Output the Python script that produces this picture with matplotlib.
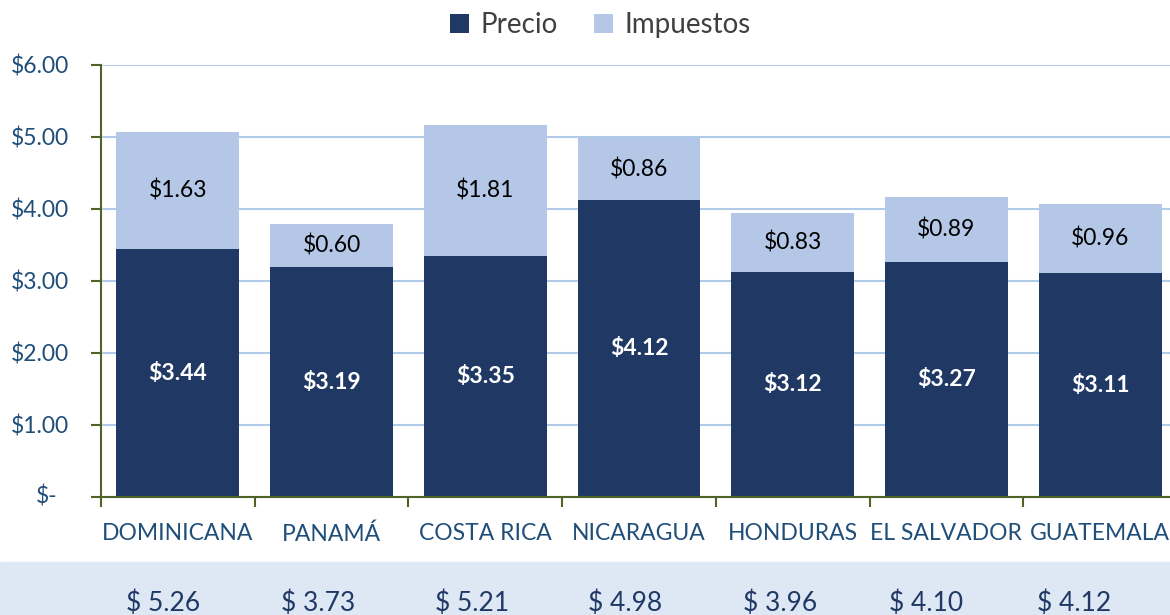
import matplotlib
matplotlib.use("Agg")
import matplotlib.pyplot as plt
from matplotlib.patches import Rectangle

categories = ["DOMINICANA", "PANAMÁ", "COSTA RICA", "NICARAGUA", "HONDURAS", "EL SALVADOR", "GUATEMALA"]
precio = [3.44, 3.19, 3.35, 4.12, 3.12, 3.27, 3.11]
impuestos = [1.63, 0.60, 1.81, 0.86, 0.83, 0.89, 0.96]
totales = ["$ 5.26", "$ 3.73", "$ 5.21", "$ 4.98", "$ 3.96", "$ 4.10", "$ 4.12"]
yticks = [0, 1, 2, 3, 4, 5, 6]
ytick_labels = ["", "$1.00", "$2.00", "$3.00", "$4.00", "$5.00", "$6.00"]
zero_label = "$-"

# layout: pixel centres of the totals row (table cells below the chart)
totals_px = [163, 318, 472, 625, 780, 926, 1074]

C_PRECIO = "#203864"
C_IMP = "#B4C7E7"
C_GRID = "#B0CBE8"
C_SPINE = "#4F6228"
C_TICK = "#1F4E79"

plt.rcParams['font.family'] = ['Lato', 'DejaVu Sans']

fig = plt.figure(figsize=(11.7, 6.15), dpi=100)
fig.patches.append(Rectangle((0, 0), 1, (615 - 562) / 615, transform=fig.transFigure,
                             color="#DDE8F4", zorder=0))
ax = fig.add_axes([101 / 1170, 1 - 497 / 615, (1177 - 101) / 1170, (497 - 65) / 615])

x = list(range(len(categories)))
b1 = ax.bar(x, precio, width=0.8, color=C_PRECIO, label="Precio", zorder=3)
b2 = ax.bar(x, impuestos, width=0.8, bottom=precio, color=C_IMP, label="Impuestos", zorder=3)

for i in x:
    ax.text(i, precio[i] / 2, f"${precio[i]:.2f}", ha="center", va="center",
            color="white", fontsize=16.5, fontweight="bold", zorder=4)
    ax.text(i, precio[i] + impuestos[i] / 2, f"${impuestos[i]:.2f}", ha="center", va="center",
            color="black", fontsize=16.5, zorder=4)
    fig.text(totals_px[i] / 1170, 1 - 603 / 615, totales[i],
             ha="center", va="center", fontsize=19, color="#1F3864")

ax.set_xlim(-0.5, 6.5)
ax.set_ylim(0, 6)
ax.set_yticks(yticks)
ax.set_yticklabels(ytick_labels)
ax.set_xticks(x)
ax.set_xticklabels(categories)
ax.set_xticks([i - 0.5 for i in range(len(categories) + 1)], minor=True)
ax.tick_params(axis="x", which="major", length=0, pad=19, labelsize=16.5, labelcolor=C_TICK)
ax.tick_params(axis="x", which="minor", length=7, width=1.5, color=C_SPINE, direction="out")
ax.tick_params(axis="y", length=7, width=1.5, color=C_SPINE, pad=16, labelsize=16.5, labelcolor=C_TICK)
ax.annotate(zero_label, xy=(0, 0), xycoords=("axes fraction", "data"),
            xytext=(-31, 0), textcoords="offset points", ha="right", va="center",
            fontsize=16.5, color=C_TICK, annotation_clip=False)

ax.grid(axis="y", color=C_GRID, linewidth=1.5, zorder=0)
ax.set_axisbelow(True)
for s in ["top", "right"]:
    ax.spines[s].set_visible(False)
for s in ["left", "bottom"]:
    ax.spines[s].set_color(C_SPINE)
    ax.spines[s].set_linewidth(1.5)
    ax.spines[s].set_zorder(5)

leg = fig.legend(handles=[b1, b2], labels=["Precio", "Impuestos"], loc="center",
                 bbox_to_anchor=(600 / 1170, 1 - 25 / 615), ncol=2, frameon=False,
                 fontsize=20, handlelength=0.7, handleheight=0.7, handletextpad=0.4,
                 columnspacing=1.3)
for t in leg.get_texts():
    t.set_color("#404040")

fig.savefig("out.png", dpi=100)
